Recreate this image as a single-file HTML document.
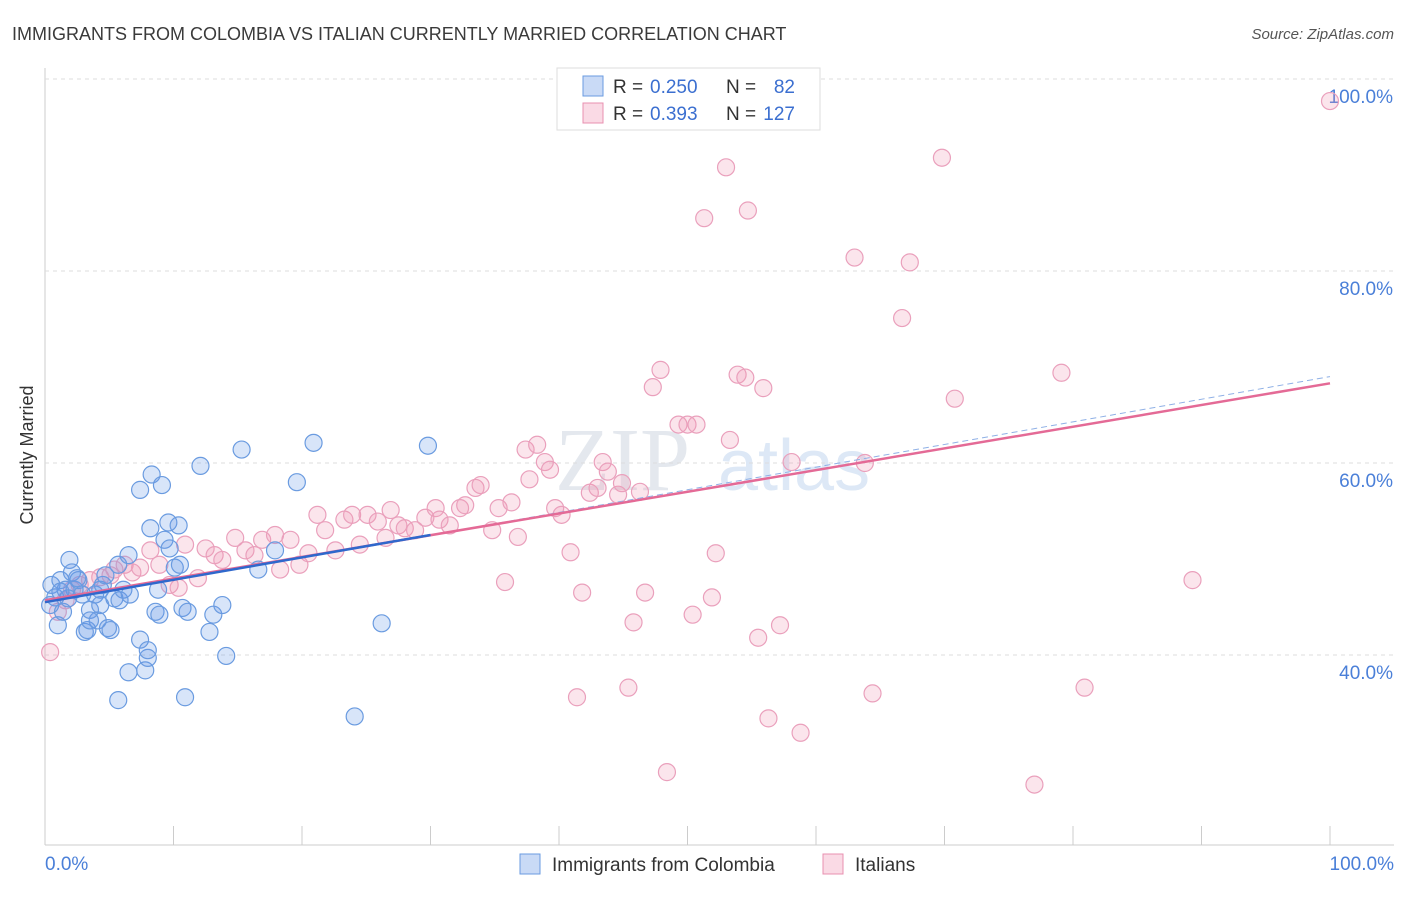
<!DOCTYPE html>
<html><head><meta charset="utf-8"><style>
body{margin:0;background:#fff;font-family:"Liberation Sans",sans-serif;}
</style></head><body>
<svg id="chart" width="1406" height="892" xmlns="http://www.w3.org/2000/svg" font-family="Liberation Sans, sans-serif">
<text x="12" y="40" font-size="18" fill="#3a3a3a">IMMIGRANTS FROM COLOMBIA VS ITALIAN CURRENTLY MARRIED CORRELATION CHART</text>
<text x="1394" y="39" font-size="15" fill="#555" text-anchor="end" font-style="italic">Source: ZipAtlas.com</text>
<text x="555" y="490" font-size="90" fill="#e4e8ee" font-family="Liberation Serif, serif">ZIP</text>
<text x="718" y="490" font-size="72" fill="#dde8f6">atlas</text>
<text transform="translate(33,455) rotate(-90)" font-size="18" fill="#333" text-anchor="middle">Currently Married</text>
<g id="grid"></g><g id="ticks"></g><g id="pts"></g><g id="lines"></g>
<g>
<rect x="557" y="68" width="263" height="62" fill="#fff" stroke="#ddd"/>
<rect x="583" y="76" width="20" height="20" fill="rgba(100,150,230,0.35)" stroke="#6a9be0"/>
<rect x="583" y="103" width="20" height="20" fill="rgba(240,150,180,0.35)" stroke="#e890b0"/>
<text x="613" y="93" font-size="19" fill="#333">R =</text>
<text x="650" y="93" font-size="19" fill="#3b6fd0">0.250</text>
<text x="726" y="93" font-size="19" fill="#333">N =</text>
<text x="795" y="93" font-size="19" fill="#3b6fd0" text-anchor="end">82</text>
<text x="613" y="120" font-size="19" fill="#333">R =</text>
<text x="650" y="120" font-size="19" fill="#3b6fd0">0.393</text>
<text x="726" y="120" font-size="19" fill="#333">N =</text>
<text x="795" y="120" font-size="19" fill="#3b6fd0" text-anchor="end">127</text>
</g>
<g>
<rect x="520" y="854" width="20" height="20" fill="rgba(100,150,230,0.35)" stroke="#6a9be0"/>
<text x="552" y="871" font-size="19" fill="#333">Immigrants from Colombia</text>
<rect x="823" y="854" width="20" height="20" fill="rgba(240,150,180,0.35)" stroke="#e890b0"/>
<text x="855" y="871" font-size="19" fill="#333">Italians</text>
</g>
</svg>
<script>
const blueX=[0.5,0.8,1.2,0.4,1.0,1.4,1.9,2.1,2.3,2.6,1.6,2.9,3.1,3.3,3.5,3.9,4.1,4.3,4.5,4.7,4.9,5.1,5.4,5.7,5.8,6.1,6.5,6.6,6.5,5.7,7.4,7.4,7.8,8.0,8.0,8.2,8.3,8.6,8.8,8.9,9.1,9.3,9.6,9.7,10.1,10.4,10.5,10.7,10.9,11.1,12.1,12.8,13.1,13.8,14.1,15.3,16.6,17.9,19.6,20.9,24.1,26.2,29.8,3.5,1.8,4.3,1.2,2.5];
const blueY=[47.3,46.0,47.8,45.2,43.1,44.5,49.9,48.6,46.8,47.8,46.8,46.3,42.4,42.6,44.7,46.3,43.6,46.8,47.3,48.3,42.8,42.6,45.9,49.4,45.7,46.8,50.4,46.3,38.2,35.3,57.2,41.6,38.4,39.7,40.5,53.2,58.8,44.5,46.8,44.2,57.7,52.0,53.8,51.1,49.1,53.5,49.4,44.9,35.6,44.5,59.7,42.4,44.2,45.2,39.9,61.4,48.9,50.9,58.0,62.1,33.6,43.3,61.8,43.6,45.9,45.2,46.6,48.0];
const pinkX=[0.4,1.0,1.6,2.1,2.7,3.5,4.3,5.1,5.4,6.2,6.8,7.4,8.2,8.9,9.7,10.4,10.9,11.9,12.5,13.2,13.8,14.8,15.6,16.3,16.9,17.9,18.3,19.1,19.8,20.5,21.2,21.8,22.6,23.3,23.9,24.5,25.1,25.9,26.5,26.9,27.5,28.0,28.8,29.6,30.4,30.7,31.5,32.3,32.7,33.5,33.9,34.8,35.3,35.8,36.3,36.8,37.4,37.7,38.3,38.9,39.3,39.7,40.2,40.9,41.4,41.8,42.4,43.0,43.4,43.8,44.6,44.9,45.4,45.8,46.3,46.7,47.3,47.9,48.4,49.3,50.0,50.4,50.7,51.3,51.9,52.2,53.0,53.3,53.9,54.5,54.7,55.5,55.9,56.3,57.2,58.1,58.8,63.0,63.8,64.4,66.7,67.3,69.8,70.8,77.0,79.1,80.9,89.3,100.0];
const pinkY=[40.3,44.5,45.7,46.8,47.3,47.8,48.1,48.3,48.9,49.4,48.6,49.1,50.9,49.4,47.3,47.0,51.5,48.0,51.1,50.4,49.9,52.2,50.9,50.4,52.0,52.5,48.9,52.0,49.4,50.6,54.6,53.0,50.9,54.1,54.6,51.5,54.6,53.9,52.2,55.1,53.5,53.2,53.0,54.3,55.3,54.1,53.5,55.3,55.6,57.4,57.7,53.0,55.3,47.6,55.9,52.3,61.4,58.3,61.9,60.1,59.3,55.3,54.6,50.7,35.6,46.5,56.9,57.4,60.1,59.1,56.7,57.9,36.6,43.4,57.0,46.5,67.9,69.7,27.8,64.0,64.0,44.2,64.0,85.5,46.0,50.6,90.8,62.4,69.2,68.9,86.3,41.8,67.8,33.4,43.1,60.1,31.9,81.4,60.0,36.0,75.1,80.9,91.8,66.7,26.5,69.4,36.6,47.8,97.7];
const blueTrend=[[0,45.5],[30,52.5]];
const blueDash=[[30,52.5],[100,69.0]];
const pinkTrend=[[0,45.7],[100,68.3]];
const yTicks=[40,60,80,100];
const xTicks=[0,10,20,30,40,50,60,70,80,90,100];
const NS="http://www.w3.org/2000/svg";
const X=v=>45+v*12.85, Y=v=>79+(100-v)*9.6;
function mk(p,t,a){const e=document.createElementNS(NS,t);for(const k in a)e.setAttribute(k,a[k]);document.getElementById(p).appendChild(e);return e;}
let ax=mk('grid','line',{x1:45,y1:68,x2:45,y2:845,stroke:'#ccc'});


let bx=mk('grid','line',{x1:45,y1:845,x2:1394,y2:845,stroke:'#ccc'});


yTicks.forEach(v=>{
 let g=mk('grid','line',{x1:45,x2:1394,y1:Y(v),y2:Y(v),stroke:'#ddd','stroke-dasharray':'4,4'});
 
 
 let t=mk('ticks','text',{x:1393,y:Y(v)+24,'text-anchor':'end','font-size':19,fill:'#4a7fd8'});
 t.textContent=v.toFixed(1)+'%';
 
 
});
xTicks.forEach(v=>{
 let l=mk('ticks','line',{x1:X(v),x2:X(v),y1:826,y2:845,stroke:'#ccc'});
 
 
});
[[0,'start',45],[100,'end',1394]].forEach(([v,a,x])=>{
 let t=mk('ticks','text',{x:x,y:870,'text-anchor':a,'font-size':19,fill:'#4a7fd8'});
 t.textContent=v.toFixed(1)+'%';
 
 
});
pinkX.forEach((x,i)=>{
 let c=mk('pts','circle',{cx:X(x),cy:Y(pinkY[i]),r:8.5,fill:'rgba(240,150,180,0.25)',stroke:'#eaa0bc','stroke-width':1.2});
 
 
});
blueX.forEach((x,i)=>{
 let c=mk('pts','circle',{cx:X(x),cy:Y(blueY[i]),r:8.5,fill:'rgba(100,150,230,0.25)',stroke:'#6a9be0','stroke-width':1.2});
 
 
});
let d=mk('lines','line',{x1:X(blueDash[0][0]),y1:Y(blueDash[0][1]),x2:X(blueDash[1][0]),y2:Y(blueDash[1][1]),stroke:'#8fb0e6','stroke-width':1,'stroke-dasharray':'6,4'});


let p=mk('lines','line',{x1:X(pinkTrend[0][0]),y1:Y(pinkTrend[0][1]),x2:X(pinkTrend[1][0]),y2:Y(pinkTrend[1][1]),stroke:'#e46a96','stroke-width':2.5});


let b=mk('lines','line',{x1:X(blueTrend[0][0]),y1:Y(blueTrend[0][1]),x2:X(blueTrend[1][0]),y2:Y(blueTrend[1][1]),stroke:'#2f68cc','stroke-width':2.5});


</script>
</body></html>
